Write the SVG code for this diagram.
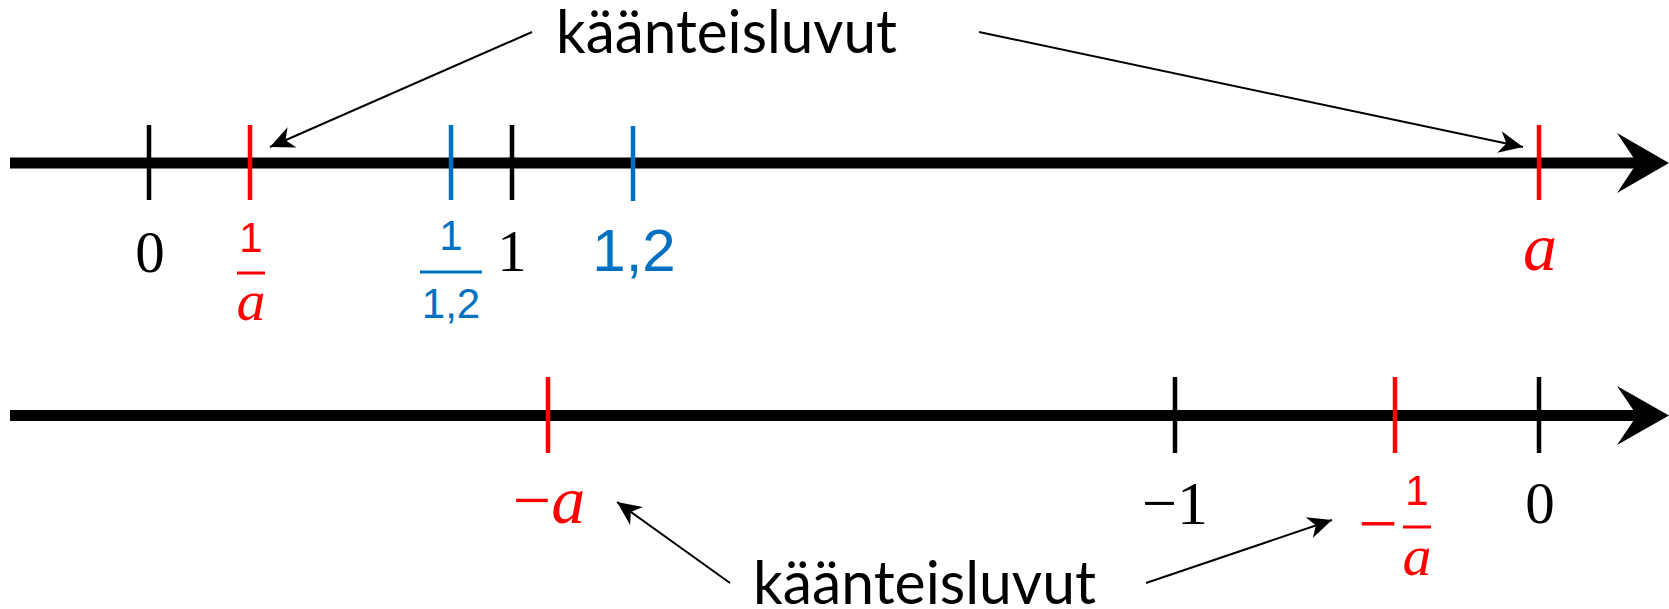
<svg xmlns="http://www.w3.org/2000/svg" width="1669" height="609" viewBox="0 0 1669 609">
<style>
.axis{stroke:#000;stroke-width:11;fill:none}
.tick{stroke-width:4.5;fill:none}
.k{stroke:#000}.r{stroke:#FF0000}.b{stroke:#0070C0}
.bar{stroke-width:3}
.conn{stroke:#000;stroke-width:2;fill:none;marker-end:url(#ah)}
.ser{font-family:"Liberation Serif",serif;text-anchor:middle}
.san{font-family:"Liberation Sans",sans-serif;text-anchor:middle}
.it{font-style:italic}
.lab{font-family:Lato,"Liberation Sans",sans-serif;font-size:60px;fill:#000}
.fk{fill:#000}.fr{fill:#FF0000}.fb{fill:#0070C0}
</style>
<defs>
<marker id="ah" viewBox="-26 -13 28 26" refX="0" refY="0" markerWidth="28" markerHeight="26" markerUnits="userSpaceOnUse" orient="auto">
<path d="M0,0 L-24,-11 L-17,0 L-24,11 Z" fill="#000"/>
</marker>
</defs>
<rect width="1669" height="609" fill="#fff"/>
<g id="axis-top">
<line class="axis" x1="10" y1="163" x2="1640" y2="163"/>
<polygon points="1669,163 1617,133 1637,163 1617,193" fill="#000"/>
</g>
<g id="axis-bottom">
<line class="axis" x1="10" y1="415.5" x2="1640" y2="415.5"/>
<polygon points="1669,415.5 1617,386 1637,415.5 1617,445" fill="#000"/>
</g>
<g id="t-0">
<line class="tick k" x1="149" y1="125" x2="149" y2="200"/>
<text class="ser fk" x="150" y="272" font-size="59">0</text>
</g>
<g id="t-inv-a">
<line class="tick r" x1="250" y1="125" x2="250" y2="200"/>
<text class="san fr" x="251" y="252" font-size="42">1</text>
<line class="bar r" x1="237" y1="273" x2="265" y2="273"/>
<text class="ser it fr" x="251" y="320" font-size="58">a</text>
</g>
<g id="t-inv-12">
<line class="tick b" x1="451" y1="125" x2="451" y2="200"/>
<text class="san fb" x="451" y="250" font-size="42">1</text>
<line class="bar b" x1="420" y1="272" x2="482" y2="272"/>
<text class="san fb" x="451" y="318" font-size="42">1,2</text>
</g>
<g id="t-1">
<line class="tick k" x1="512" y1="125" x2="512" y2="200"/>
<text class="ser fk" x="512" y="271" font-size="59">1</text>
</g>
<g id="t-12">
<line class="tick b" x1="633" y1="126" x2="633" y2="201"/>
<text class="san fb" x="634" y="271" font-size="60">1,2</text>
</g>
<g id="t-a">
<line class="tick r" x1="1539" y1="125" x2="1539" y2="200"/>
<text class="ser it fr" x="1540" y="270" font-size="68">a</text>
</g>
<g id="b-neg-a">
<line class="tick r" x1="548" y1="377" x2="548" y2="453"/>
<text class="ser fr" x="549" y="523" font-size="68">−<tspan class="it">a</tspan></text>
</g>
<g id="b-neg-1">
<line class="tick k" x1="1175" y1="377" x2="1175" y2="453"/>
<text class="ser fk" x="1175" y="524" font-size="62">−1</text>
</g>
<g id="b-neg-inv-a">
<line class="tick r" x1="1395" y1="377" x2="1395" y2="453"/>
<text class="ser fr" x="1378" y="547" font-size="70">−</text>
<text class="san fr" x="1417" y="505" font-size="42">1</text>
<line class="bar r" x1="1403" y1="527" x2="1431" y2="527"/>
<text class="ser it fr" x="1417" y="575" font-size="58">a</text>
</g>
<g id="b-0">
<line class="tick k" x1="1539" y1="377" x2="1539" y2="453"/>
<text class="ser fk" x="1540" y="523" font-size="59">0</text>
</g>
<g id="label-top">
<text class="lab" x="556" y="53" textLength="341" lengthAdjust="spacingAndGlyphs">käänteisluvut</text>
</g>
<g id="label-bottom">
<text class="lab" x="753" y="604" textLength="343" lengthAdjust="spacingAndGlyphs">käänteisluvut</text>
</g>
<g id="connectors">
<line class="conn" x1="532" y1="32" x2="270" y2="147"/>
<line class="conn" x1="979" y1="32" x2="1523" y2="147"/>
<line class="conn" x1="730" y1="583" x2="617" y2="502"/>
<line class="conn" x1="1146" y1="583" x2="1332" y2="520"/>
</g>
</svg>
